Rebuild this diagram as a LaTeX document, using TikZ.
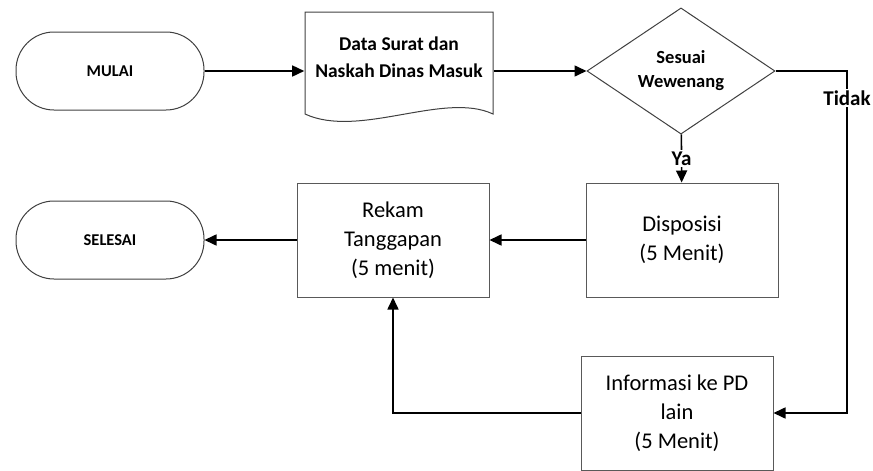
\documentclass[tikz,border=0pt]{standalone}
\usepackage{fontspec}
\setmainfont{Carlito}
\usetikzlibrary{arrows.meta,positioning,shapes.geometric}

\begin{document}
\begin{tikzpicture}[x=1pt,y=-1pt,>={Triangle[length=12pt,width=11pt]},
	line width=1.6pt,on grid,
	term/.style={draw=black!75,line width=1pt,rounded corners=38pt,minimum width=188pt,
		minimum height=78pt,font=\fontsize{16.5}{18}\selectfont\bfseries},
	proses/.style={draw=black!65,line width=1pt,minimum width=192pt,minimum height=114pt,
		align=center,font=\fontsize{22.5}{29}\selectfont},
	cabang/.style={diamond,draw=black!75,line width=1pt,minimum width=188pt,minimum height=112pt,
		inner sep=0pt,align=center,font=\fontsize{18.5}{24}\selectfont\bfseries},
	dokumen/.style={minimum width=188pt,align=center,font=\fontsize{19.5}{27}\selectfont\bfseries},
	ket/.style={fill=white,inner sep=1.5pt,font=\fontsize{21}{24}\selectfont\bfseries}]
	\useasboundingbox (0,0) rectangle (873,471);
	
	\node[term] (mulai) at (110,71) {MULAI};
	\node[dokumen] (dok) [right=289pt of mulai,yshift=14pt] {Data Surat dan\\Naskah Dinas Masuk};
	\node[cabang] (cek) [right=571pt of mulai] {Sesuai\\Wewenang};
	\coordinate[right=166pt of cek] (belok);
	\node[term] (selesai) [below=169pt of mulai] {SELESAI};
	\node[proses] (rekam) [right=283pt of selesai] {Rekam\\Tanggapan\\(5 menit)};
	\node[proses] (dispo) [right=289pt of rekam] {Disposisi\\(5 Menit)};
	\node[proses] (info) [below=173pt of dispo,xshift=-5pt] {Informasi ke PD\\lain\\(5 Menit)};
	
	% lembar dokumen
	\draw[draw=black!75,line width=1pt,shift={(dok.center)}] (-94,-45) -- (94,-45) -- (94,57)
		.. controls (45,34) and (-40,82) .. (-94,57) -- cycle;
	
	\draw[->] (mulai.east) -- (mulai.east -| dok.west);
	\draw[->] (cek.west -| dok.east) -- (cek.west);
	\draw[->] (cek) -- node[ket] {Ya} (dispo);
	\draw[->] (cek.east) -- (belok) |- node[ket,pos=0.04] {Tidak} (info.east);
	\draw[->] (dispo) -- (rekam);
	\draw[->] (rekam) -- (selesai);
	\draw[->] (info.west) -| (rekam.south);
\end{tikzpicture}
\end{document}
